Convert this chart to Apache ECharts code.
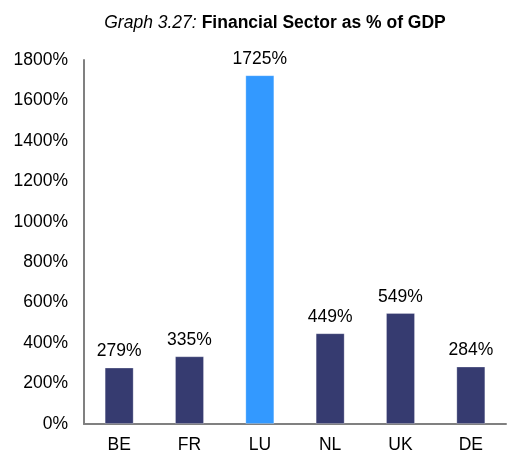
<!DOCTYPE html>
<html>
<head>
<meta charset="utf-8">
<script src="https://cdn.jsdelivr.net/npm/echarts@6/dist/echarts.min.js"></script>
<style>
  html, body { margin: 0; padding: 0; background: #fff; }
  #chart { width: 507px; height: 452px; }
</style>
</head>
<body>
<div id="chart"></div>
<script>
const countries = ['BE', 'FR', 'LU', 'NL', 'UK', 'DE']
const sharePct = [279, 335, 1725, 449, 549, 284]
const highlight = 'LU'

const navy = '#363B70'
const blue = '#3399FF'
const font = 'Liberation Sans, Arial, sans-serif'
const fs = 17.5

const chart = echarts.init(document.getElementById('chart'))

const option = {
  animation: false,
  textStyle: { fontFamily: font },
  title: {
    text: '{i|Graph 3.27:} {b|Financial Sector as % of GDP}',
    left: 270,
    textAlign: 'center',
    top: 9,
    textStyle: {
      fontWeight: 'normal',
      rich: {
        i: { fontStyle: 'italic', fontWeight: 'normal', fontSize: 17.5, color: '#000', fontFamily: font },
        b: { fontWeight: 'bold', fontSize: 17.5, color: '#000', fontFamily: font },
      },
    },
  },
  grid: { left: 84, right: 1, top: 60, bottom: 28, containLabel: false, outerBoundsMode: 'none' },
  xAxis: {
    type: 'category',
    data: countries,
    axisLine: { lineStyle: { color: '#808080', width: 2 } },
    axisTick: { show: false },
    axisLabel: { color: '#000', fontSize: fs, margin: 12 },
  },
  yAxis: {
    type: 'value',
    min: 0,
    max: 1800,
    interval: 200,
    axisLine: { show: true, lineStyle: { color: '#808080', width: 2 } },
    axisTick: { show: false },
    splitLine: { show: false },
    axisLabel: { color: '#000', fontSize: fs, margin: 16, formatter: v => v + '%' },
  },
  series: [
    {
      type: 'bar',
      barWidth: 29,
      data: sharePct.map((v, i) => ({
        value: v,
        itemStyle: { color: countries[i] === highlight ? blue : navy },
      })),
      itemStyle: { borderColor: 'rgba(255,255,255,0.25)', borderWidth: 1 },
      label: {
        show: true,
        position: 'top',
        distance: 7,
        color: '#000',
        fontSize: fs,
        formatter: p => p.value + '%',
      },
    },
  ],
}

chart.setOption(option)
</script>
</body>
</html>
